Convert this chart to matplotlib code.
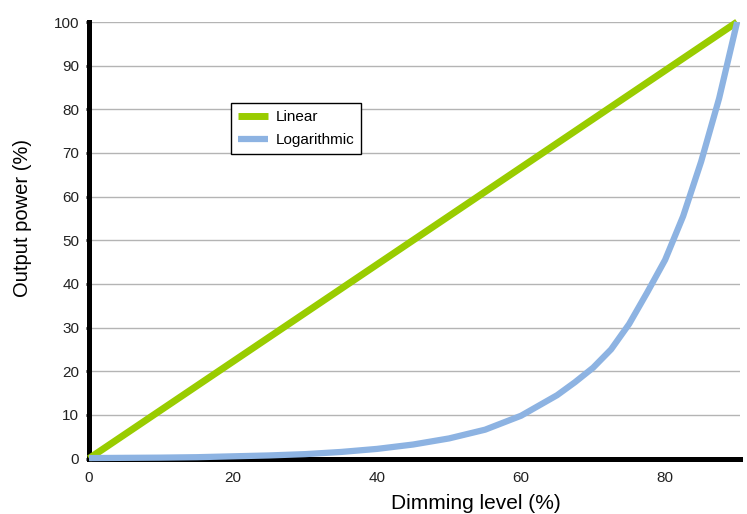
import matplotlib
matplotlib.use("Agg")
import matplotlib.pyplot as plt

plt.rcParams['font.family'] = ['Liberation Sans', 'DejaVu Sans']

# Data
dimming_linear = [0, 90]
power_linear = [0, 100]

dimming_log = [0, 5, 10, 15, 20, 25, 30, 35, 40, 45, 50, 55, 60, 65, 67.5, 70,
               72.5, 75, 77.5, 80, 82.5, 85, 87.5, 90]
power_log = [0.1, 0.15, 0.2, 0.3, 0.5, 0.7, 1.0, 1.5, 2.2, 3.2, 4.6, 6.6, 9.8,
             14.5, 17.5, 20.8, 25.0, 30.8, 38.0, 45.5, 55.5, 68.0, 82.5, 100]

x_ticks = [0, 20, 40, 60, 80]
y_ticks = [0, 10, 20, 30, 40, 50, 60, 70, 80, 90, 100]

W, H = 747, 514
fig = plt.figure(figsize=(W / 100, H / 100), dpi=100)
ax = fig.add_axes([89 / W, 1 - 458.5 / H, (740 - 89) / W, (458.5 - 22) / H])

ax.plot(dimming_linear, power_linear, color='#99cc00', lw=5, label='Linear',
        solid_capstyle='butt', zorder=3, clip_on=False)
ax.plot(dimming_log, power_log, color='#8db3e2', lw=4.5, label='Logarithmic',
        solid_capstyle='butt', zorder=3, clip_on=False)

ax.set_xlim(0, 90.4)
ax.set_ylim(0, 100)
ax.set_xticks(x_ticks)
ax.set_yticks(y_ticks)
ax.yaxis.grid(True, color='#b4b4b4', lw=1)
ax.set_axisbelow(True)

for s in ['top', 'right']:
    ax.spines[s].set_visible(False)
for s in ['left', 'bottom']:
    ax.spines[s].set_linewidth(3.6)
    ax.spines[s].set_color('black')
    ax.spines[s].set_zorder(2)

ax.tick_params(axis='y', length=2.5, width=2, labelsize=11, colors='black', pad=4.5)
ax.tick_params(axis='x', length=0, labelsize=11, pad=9)
for lab in ax.get_xticklabels() + ax.get_yticklabels():
    lab.set_color('#222222')

fig.text(476 / W, 1 - 509 / H, 'Dimming level (%)', fontsize=15,
         ha='center', va='baseline')
fig.text(23 / W, 1 - 297 / H, 'Output power (%)', fontsize=14.5,
         rotation=90, ha='center', va='bottom')

leg = ax.legend(loc='upper left', bbox_to_anchor=((231 - 89) / 651, (458.5 - 103) / 436.5),
                fontsize=11, frameon=True, fancybox=False, handlelength=1.95,
                borderpad=0.45, labelspacing=0.6, handletextpad=0.5, borderaxespad=0)
leg.get_frame().set_edgecolor('black')
leg.get_frame().set_linewidth(1)
leg.get_frame().set_alpha(1)

fig.savefig('out.png', dpi=100)
